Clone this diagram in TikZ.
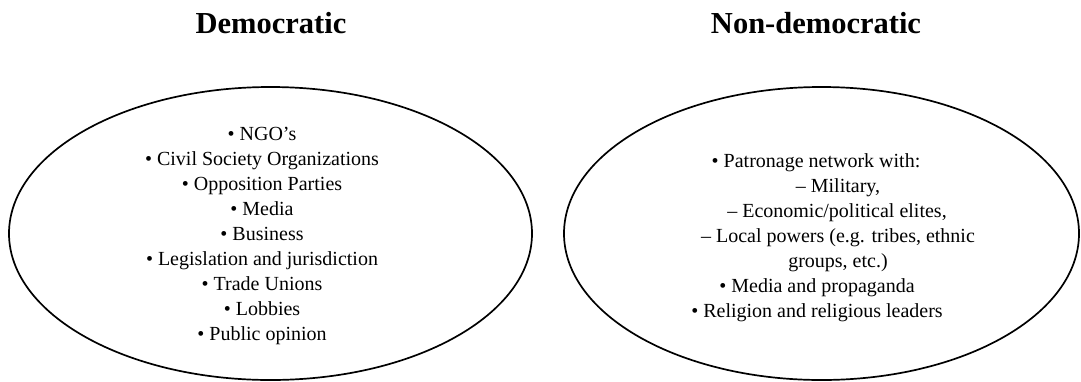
\documentclass[tikz,border=0pt]{standalone}
\usepackage{fontspec}
\setmainfont{Liberation Serif}
\begin{document}
\begin{tikzpicture}[x=1pt,y=-1pt,
  title/.style={font=\fontsize{30.5}{35}\selectfont\bfseries, anchor=base, inner sep=0pt},
  item/.style={font=\fontsize{20}{25}\selectfont, anchor=base, inner sep=0pt},
  oval/.style={draw=black, line width=1.7pt}]
\useasboundingbox (0,0) rectangle (1081,381);
% titles
\node[title] (tdem) at (271,33) {Democratic};
\node[title] (tnon) at (816,33) {Non-democratic};
% ellipses
\draw[oval] (270.5,233.5) ellipse [x radius=261.5pt, y radius=146.5pt];
\draw[oval] (821.5,233.5) ellipse [x radius=257.5pt, y radius=146.5pt];
% left items
\node[item] (l1) at (262,140) {• NGO’s};
\node[item] (l2) at (262,165) {• Civil Society Organizations};
\node[item] (l3) at (262,190) {• Opposition Parties};
\node[item] (l4) at (262,215) {• Media};
\node[item] (l5) at (262,240) {• Business};
\node[item] (l6) at (262,265) {• Legislation and jurisdiction};
\node[item] (l7) at (262,290) {• Trade Unions};
\node[item] (l8) at (262,315) {• Lobbies};
\node[item] (l9) at (262,340) {• Public opinion};
% right items
\node[item] (r1) at (816,167) {• Patronage network with:};
\node[item] (r2) at (838,192) {– Military,};
\node[item] (r3) at (837,217) {– Economic/political elites,};
\node[item] (r4) at (838,242) {– Local powers (e.g. tribes, ethnic};
\node[item] (r5) at (838,267) {groups, etc.)};
\node[item] (r6) at (817,292) {• Media and propaganda};
\node[item] (r7) at (817,317) {• Religion and religious leaders};
\end{tikzpicture}
\end{document}
